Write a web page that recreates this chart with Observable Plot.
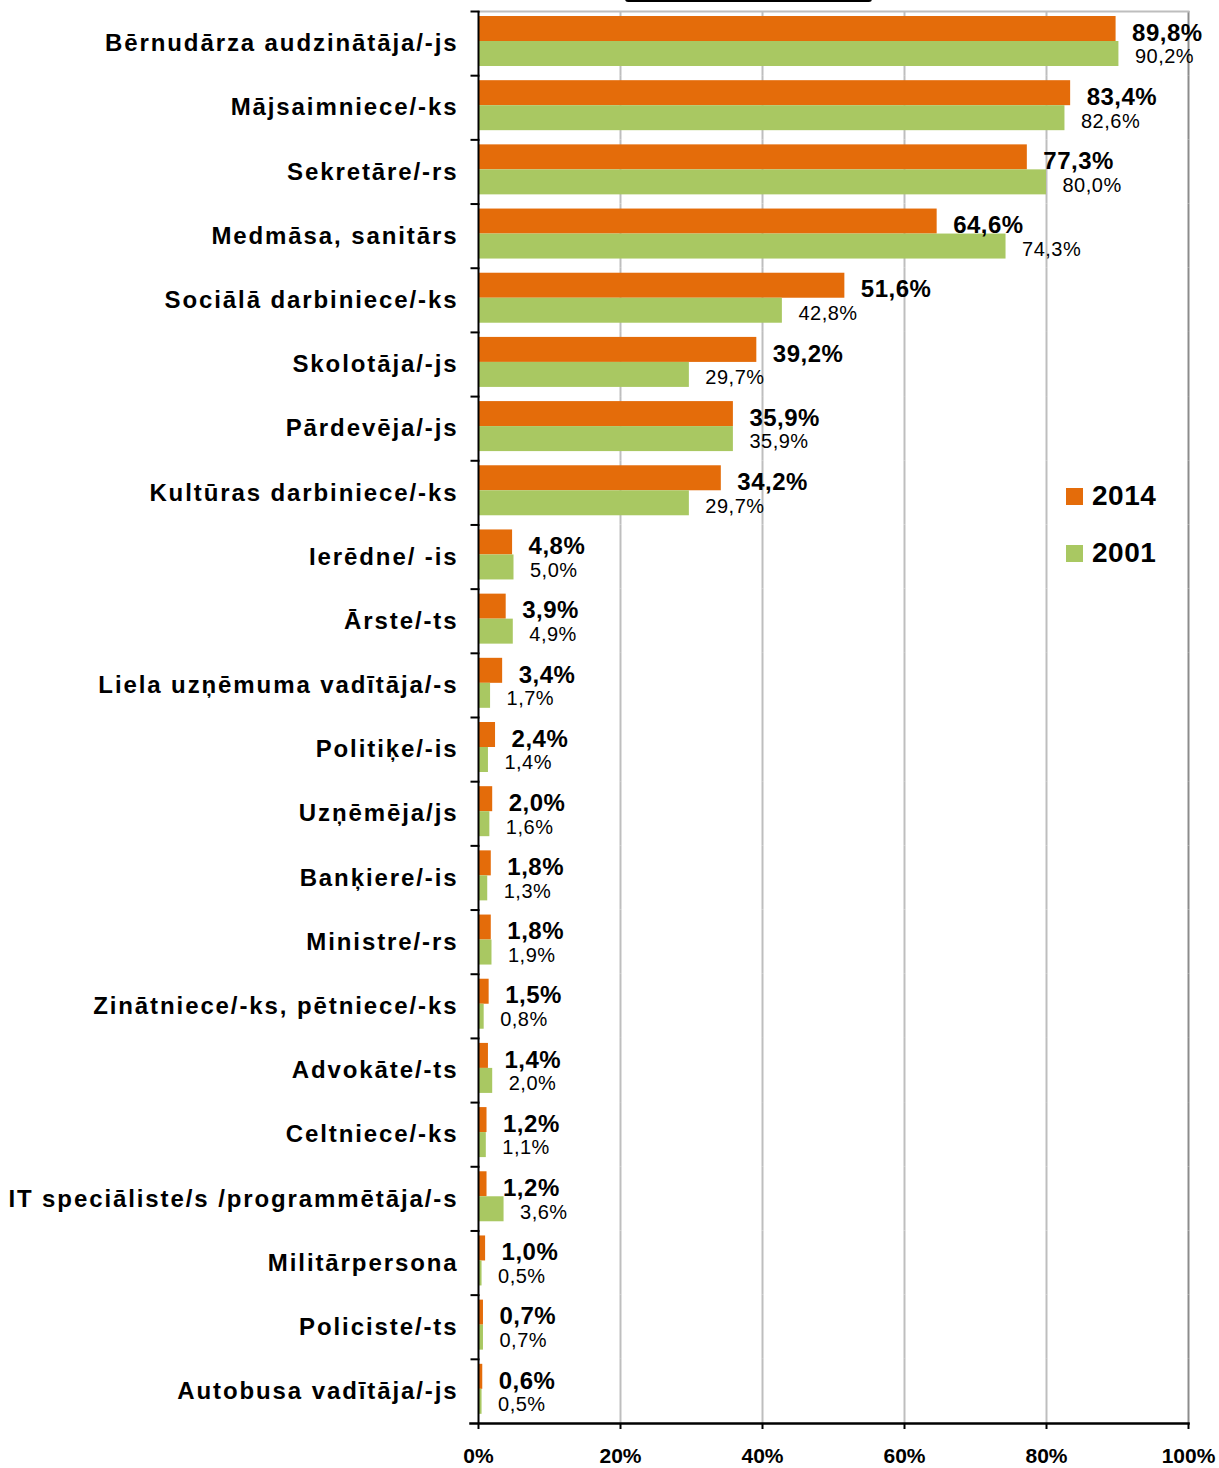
<!DOCTYPE html>
<html>
<head>
<meta charset="utf-8">
<script src="https://cdn.jsdelivr.net/npm/d3@7"></script>
<script src="https://cdn.jsdelivr.net/npm/@observablehq/plot@0.6"></script>
<style>
  body { margin: 0; background: #fff; font-family: "Liberation Sans", Arial, sans-serif; }
  #wrap { position: relative; width: 1219px; height: 1468px; overflow: hidden; }
  #wrap svg g[aria-label="fy-axis tick label"] { letter-spacing: 1.9px; }
  #wrap svg g[aria-label="text"] { letter-spacing: 0.5px; }
  .brace { position: absolute; left: 625px; top: -2px; width: 243px; height: 2px;
           border: 2px solid #000; border-top: none; border-radius: 0 0 3px 3px; }
  .legend { position: absolute; left: 1066px; font-weight: bold; font-size: 28px; color: #000;
            display: flex; align-items: center; letter-spacing: 0.5px; }
  .legend .sw { width: 17px; height: 17px; margin-right: 9px; }
</style>
</head>
<body>
<div id="wrap"></div>
<script>
const categories = [
  "Bērnudārza audzinātāja/-js",
  "Mājsaimniece/-ks",
  "Sekretāre/-rs",
  "Medmāsa, sanitārs",
  "Sociālā darbiniece/-ks",
  "Skolotāja/-js",
  "Pārdevēja/-js",
  "Kultūras darbiniece/-ks",
  "Ierēdne/ -is",
  "Ārste/-ts",
  "Liela uzņēmuma vadītāja/-s",
  "Politiķe/-is",
  "Uzņēmēja/js",
  "Banķiere/-is",
  "Ministre/-rs",
  "Zinātniece/-ks, pētniece/-ks",
  "Advokāte/-ts",
  "Celtniece/-ks",
  "IT speciāliste/s /programmētāja/-s",
  "Militārpersona",
  "Policiste/-ts",
  "Autobusa vadītāja/-js"
];
const values2014 = [89.8, 83.4, 77.3, 64.6, 51.6, 39.2, 35.9, 34.2, 4.8, 3.9, 3.4, 2.4, 2.0, 1.8, 1.8, 1.5, 1.4, 1.2, 1.2, 1.0, 0.7, 0.6];
const values2001 = [90.2, 82.6, 80.0, 74.3, 42.8, 29.7, 35.9, 29.7, 5.0, 4.9, 1.7, 1.4, 1.6, 1.3, 1.9, 0.8, 2.0, 1.1, 3.6, 0.5, 0.7, 0.5];
const seriesNames = ["2014", "2001"];
const seriesColors = ["#E46C0A", "#A9C862"];
const xTicks = [0, 20, 40, 60, 80, 100];
const gridTicks = [20, 40, 60, 80];
const maxTick = [100];

const rows = [];
categories.forEach((c, i) => {
  rows.push({category: c, series: seriesNames[0], value: values2014[i]});
  rows.push({category: c, series: seriesNames[1], value: values2001[i]});
});
const fmt = v => v.toFixed(1).replace(".", ",") + "%";

const chart = Plot.plot({
  width: 1219,
  height: 1468,
  marginLeft: 478,
  marginRight: 31,
  marginTop: 11,
  marginBottom: 45,
  style: {fontFamily: "Liberation Sans, Arial, sans-serif", background: "#fff", overflow: "visible", color: "#000"},
  x: {domain: [0, 100], axis: null},
  y: {domain: seriesNames, axis: null, paddingInner: 0, paddingOuter: 0.26, align: 0.38},
  fy: {domain: categories, padding: 0, round: false, label: null},
  color: {domain: seriesNames, range: seriesColors},
  marks: [
    Plot.ruleX(gridTicks, {stroke: "#BEBEBE", strokeWidth: 2}),
    Plot.ruleX(maxTick, {stroke: "#8C8C8C", strokeWidth: 2}),
    Plot.frame({anchor: "top", facetAnchor: "top", stroke: "#BEBEBE", strokeWidth: 2}),
    Plot.barX(rows, {fy: "category", y: "series", x: "value", fill: "series"}),
    Plot.text(rows.filter(d => d.series === seriesNames[0]), {
      fy: "category", y: "series", x: "value", text: d => fmt(d.value),
      textAnchor: "start", dx: 16, dy: 4, fontWeight: "bold", fontSize: 24, fill: "#000"
    }),
    Plot.text(rows.filter(d => d.series === seriesNames[1]), {
      fy: "category", y: "series", x: "value", text: d => fmt(d.value),
      textAnchor: "start", dx: 16, dy: 3, fontSize: 20, fill: "#000"
    }),
    Plot.ruleX([0], {stroke: "#000", strokeWidth: 2}),
    Plot.frame({anchor: "top", stroke: "#000", strokeWidth: 2, insetLeft: -7, insetRight: 710}),
    Plot.frame({anchor: "bottom", facetAnchor: "bottom", stroke: "#000", strokeWidth: 2.5, insetLeft: -8}),
    Plot.axisX(xTicks, {
      anchor: "bottom", facetAnchor: "bottom", tickSize: 6, tickPadding: 19,
      tickFormat: d => d + "%", fontSize: 21, fontWeight: "bold", stroke: "#000", strokeWidth: 2, label: null
    }),
    Plot.axisFy({anchor: "left", tickSize: 0, tickPadding: 20, fontSize: 24, fontWeight: "bold", label: null})
  ]
});

const wrap = document.getElementById("wrap");
wrap.appendChild(chart);

const brace = document.createElement("div");
brace.className = "brace";
wrap.appendChild(brace);

const legendTops = [480, 537];
seriesNames.forEach((s, i) => {
  const item = document.createElement("div");
  item.className = "legend";
  item.style.top = legendTops[i] + "px";
  const sw = document.createElement("div");
  sw.className = "sw";
  sw.style.background = seriesColors[i];
  const label = document.createElement("span");
  label.textContent = s;
  item.appendChild(sw);
  item.appendChild(label);
  wrap.appendChild(item);
});
</script>
</body>
</html>
